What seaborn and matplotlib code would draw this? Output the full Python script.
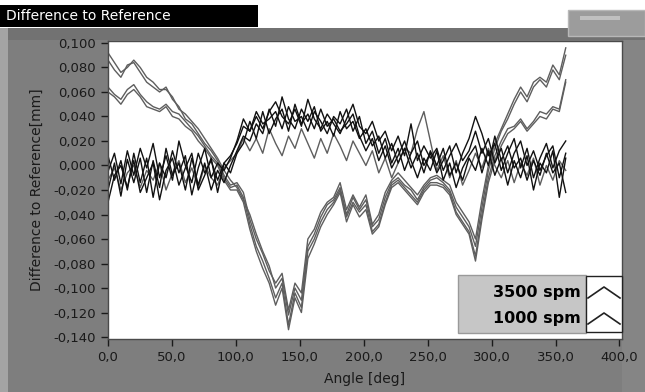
import numpy as np
import pandas as pd
import seaborn as sns
import matplotlib.pyplot as plt
from matplotlib.patches import Rectangle
from matplotlib.lines import Line2D
from matplotlib.ticker import FuncFormatter

# angle samples over one revolution [deg]
angle = np.linspace(0, 358, 72)

# differences, in micrometres (one row = 45 deg)
# 3500 spm runs (gray)
run_a1 = [86, 78, 72, 82, 84, 76, 68, 64, 60,
          64, 54, 48, 38, 34, 26, 18, 12, 4,
          -8, -16, -14, -22, -44, -60, -72, -86, -96,
          -88, -118, -96, -104, -60, -52, -38, -30, -26,
          -14, -36, -24, -34, -24, -48, -40, -22, -12,
          -6, -12, -18, -24, -16, -10, -8, -12, -16,
          -30, -38, -46, -60, -28, 0, 18, 30, 42,
          54, 64, 56, 68, 72, 68, 82, 74, 96]
run_a2 = [92, 84, 76, 80, 86, 80, 72, 68, 62,
          62, 56, 46, 42, 36, 30, 22, 14, 6,
          -4, -12, -18, -28, -40, -56, -70, -82, -100,
          -92, -122, -100, -110, -66, -56, -42, -32, -28,
          -18, -40, -26, -36, -28, -50, -44, -26, -14,
          -10, -16, -20, -28, -18, -12, -10, -14, -20,
          -34, -42, -50, -66, -34, -4, 14, 28, 38,
          50, 60, 52, 64, 70, 64, 78, 70, 90]
run_a3 = [64, 58, 54, 62, 66, 58, 52, 48, 46,
          50, 44, 42, 36, 30, 24, 16, 8, 2,
          -10, -18, -16, -26, -48, -66, -78, -92, -108,
          -96, -130, -104, -116, -70, -60, -46, -36, -30,
          -20, -42, -30, -38, -32, -54, -48, -30, -16,
          -12, -18, -24, -30, -20, -14, -14, -16, -22,
          -38, -46, -54, -74, -40, -10, 8, 20, 30,
          32, 38, 30, 36, 44, 42, 48, 46, 70]
run_a4 = [60, 56, 50, 58, 62, 56, 48, 46, 44,
          48, 40, 38, 32, 28, 20, 14, 6, 0,
          -12, -20, -20, -30, -52, -70, -84, -96, -114,
          -100, -134, -108, -120, -76, -64, -50, -40, -32,
          -22, -46, -32, -42, -36, -56, -50, -32, -18,
          -14, -20, -26, -32, -22, -16, -16, -18, -24,
          -40, -48, -56, -78, -44, -14, 4, 16, 26,
          30, 36, 28, 34, 40, 38, 46, 44, 68]
run_a5 = [-12, -2, -20, -6, 0, -18, -4, -12, 2,
          -20, -6, 4, -14, -2, -18, 0, -10, -16,
          -2, 4, 10, 22, 12, 22, 10, 30, 18,
          8, 24, 14, 30, 18, 6, 22, 10, 26,
          16, 4, 20, 10, 0, 12, -6, 6, -10,
          2, 14, 10, 30, 44, 20, -4, 8, -10,
          4, -16, -4, 10, -2, 14, 0, -10, 4,
          -14, 2, -8, 6, -16, 0, -12, 4, -4]

# 1000 spm runs (black)
run_b1 = [-5, 10, -15, 12, -8, 14, -2, 18, -10,
          8, -12, 20, 0, -14, 10, -6, 4, -12,
          2, 8, 18, 32, 28, 40, 30, 44, 52,
          40, 34, 46, 32, 54, 38, 30, 42, 34,
          26, 38, 50, 32, 26, 36, 20, 28, 12,
          24, 8, 34, 4, 16, 6, 14, -4, 8,
          18, 4, 12, 28, 10, 22, 2, 14, -6,
          10, 20, 0, 12, -4, 8, 16, -10, 10]
run_b2 = [-20, 2, -25, 5, -14, 6, -22, 4, -18,
          14, -8, 2, -20, 6, -16, 2, -20, -4,
          -14, 0, 12, 24, 20, 34, 26, 46, 32,
          56, 38, 30, 46, 36, 48, 28, 36, 24,
          44, 30, 36, 22, 30, 16, 24, 6, 18,
          2, 14, -2, 10, -6, 12, 0, 14, -8,
          2, -12, 6, -4, 14, 0, 24, 4, 16,
          -2, 6, -12, 4, -8, 10, -6, 2, -22]
run_b3 = [8, -12, 4, -20, 10, -14, 6, -26, 2,
          -10, 12, -6, 8, -24, -2, 14, -10, 2,
          -4, 6, 20, 38, 28, 44, 34, 38, 44,
          30, 48, 36, 40, 28, 44, 36, 26, 40,
          34, 46, 28, 40, 18, 28, 10, 22, 2,
          14, -4, 10, 20, 0, 10, -6, 4, 16,
          -6, 10, 22, 40, 26, 8, 18, -4, 10,
          22, -2, 14, -10, 6, 18, -2, 12, 20]
run_b4 = [-30, -8, 0, -18, 4, -22, -10, 2, -28,
          -4, 6, -16, -2, 10, -20, -8, 6, -22,
          2, -6, 10, 18, 36, 22, 44, 26, 38,
          46, 28, 50, 34, 42, 30, 46, 32, 38,
          28, 34, 42, 24, 12, 22, 4, 16, -2,
          8, 20, 4, -10, 6, -4, 12, -12, 2,
          -18, -2, 8, 16, -6, 12, -8, 6, -16,
          4, -10, 8, -20, 2, -6, 12, -26, 6]

runs = {
    ("3500 spm", "a1"): run_a1, ("3500 spm", "a2"): run_a2,
    ("3500 spm", "a3"): run_a3, ("3500 spm", "a4"): run_a4,
    ("3500 spm", "a5"): run_a5,
    ("1000 spm", "b1"): run_b1, ("1000 spm", "b2"): run_b2,
    ("1000 spm", "b3"): run_b3, ("1000 spm", "b4"): run_b4,
}

frames = []
for (speed, run), vals in runs.items():
    frames.append(pd.DataFrame({"angle": angle, "diff": np.array(vals) / 1000.0,
                                "speed": speed, "run": run}))
df = pd.concat(frames, ignore_index=True)

W, H = 645, 392
fig = plt.figure(figsize=(W / 100, H / 100), dpi=100)
fig.patch.set_facecolor("white")


def box(x0, y0, x1, y1, z=-10, **kw):
    # rectangle in pixel coords measured from top-left
    r = Rectangle((x0 / W, 1 - y1 / H), (x1 - x0) / W, (y1 - y0) / H,
                  transform=fig.transFigure, zorder=z, **kw)
    fig.add_artist(r)
    return r


# LabVIEW style panel frame
box(0, 28, 645, 392, facecolor="#a4a4a4", lw=0)
box(8, 28, 645, 392, facecolor="#7e7e7e", lw=0)
box(8, 28, 645, 40, facecolor="#727272", lw=0)
box(622, 40, 645, 392, facecolor="#858585", lw=0)
box(0, 5, 258, 27, facecolor="black", lw=0)
fig.text(6 / W, 1 - 16 / H, "Difference to Reference", color="white",
         fontsize=10, va="center", ha="left")
box(568, 10, 645, 36, facecolor="#9c9c9c", edgecolor="#b8b8b8", lw=1)
box(580, 16, 620, 20, facecolor="#c0c0c0", lw=0)

ax = fig.add_axes([108 / W, 1 - 339 / H, 514 / W, 298 / H])
ax.set_zorder(1)
ax.set_facecolor("white")

sns.lineplot(data=df, x="angle", y="diff", hue="speed", units="run",
             estimator=None, palette={"3500 spm": "#5e5e5e", "1000 spm": "#111111"},
             lw=1.0, legend=False, ax=ax)

ax.set_xlim(0, 402)
ax.set_ylim(-0.1416, 0.1016)
ax.set_xticks(np.arange(0, 401, 50))
ax.set_yticks(np.round(np.arange(-0.14, 0.1001, 0.02), 3))
ax.xaxis.set_major_formatter(FuncFormatter(lambda v, p: f"{v:.1f}".replace(".", ",")))
ax.yaxis.set_major_formatter(
    FuncFormatter(lambda v, p: f"{(0.0 if abs(v) < 1e-9 else v):.3f}".replace(".", ",")))
ax.tick_params(axis="both", direction="out", length=5, width=1, color="#1a1a1a",
               labelcolor="#1a1a1a", labelsize=9.5)
for s in ax.spines.values():
    s.set_color("#4a4a4a")
    s.set_linewidth(1)
ax.set_xlabel("Angle [deg]", fontsize=10, color="#1a1a1a")
ax.set_ylabel("Difference to Reference[mm]", fontsize=10, color="#1a1a1a")
ax.xaxis.set_label_coords(0.5, -(372 - 339) / 298)
ax.yaxis.set_label_coords(-(108 - 44) / 514, 0.5)

# plot legend box
box(458, 275, 586, 333, z=5, facecolor="#c6c6c6", edgecolor="#9a9a9a", lw=1)
box(586, 276, 622, 332, z=5, facecolor="white", edgecolor="#222222", lw=1)
for i, label in enumerate(["3500 spm", "1000 spm"]):
    yc = 292 + i * 26
    fig.text(581 / W, 1 - yc / H, label, fontsize=11.5, fontweight="bold",
             ha="right", va="center", color="black", zorder=6)
    fig.add_artist(Line2D([588 / W, 604 / W, 620 / W],
                          [1 - (yc + 6) / H, 1 - (yc - 5) / H, 1 - (yc + 6) / H],
                          transform=fig.transFigure, color="#222222", lw=1.2,
                          zorder=6))

fig.savefig("out.png", dpi=100, facecolor=fig.get_facecolor())
